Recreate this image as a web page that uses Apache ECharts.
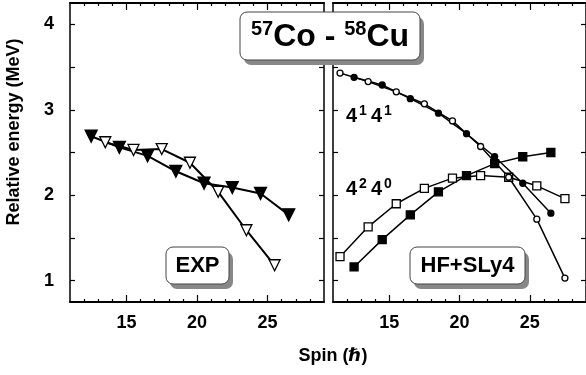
<!DOCTYPE html>
<html>
<head>
<meta charset="utf-8">
<script src="https://cdn.jsdelivr.net/npm/echarts@6/dist/echarts.min.js"></script>
<style>
  html, body { margin: 0; padding: 0; background: #fff; }
  #chart { width: 586px; height: 375px; }
</style>
</head>
<body>
<div id="chart"></div>
<script>
// 57Co (EXP) et 58Cu (HF+SLy4) : energie relative vs spin
const FONT = "'Liberation Sans', Arial, 'DejaVu Sans', sans-serif";

// panneau gauche : experience
const expFilledSpin = [12.5, 14.5, 16.5, 18.5, 20.5, 22.5, 24.5, 26.5];
const expFilledE    = [2.69, 2.56, 2.46, 2.28, 2.14, 2.09, 2.02, 1.77];
const expOpenSpin   = [13.5, 15.5, 17.5, 19.5, 21.5, 23.5, 25.5];
const expOpenE      = [2.62, 2.53, 2.54, 2.38, 2.04, 1.59, 1.18];

// panneau droit : calcul HF+SLy4
const hfOpenCircSpin = [11.5, 13.5, 15.5, 17.5, 19.5, 21.5, 23.5, 25.5, 27.5];
const hfOpenCircE    = [3.43, 3.33, 3.21, 3.07, 2.87, 2.57, 2.21, 1.72, 1.03];
const hfFilledCircSpin = [12.5, 14.5, 16.5, 18.5, 20.5, 22.5, 24.5, 26.5];
const hfFilledCircE    = [3.38, 3.29, 3.13, 2.96, 2.72, 2.45, 2.14, 1.79];
const hfOpenSqSpin = [11.5, 13.5, 15.5, 17.5, 19.5, 21.5, 23.5, 25.5, 27.5];
const hfOpenSqE    = [1.28, 1.63, 1.90, 2.08, 2.20, 2.23, 2.21, 2.11, 1.96];
const hfFilledSqSpin = [12.5, 14.5, 16.5, 18.5, 20.5, 22.5, 24.5, 26.5];
const hfFilledSqE    = [1.16, 1.48, 1.77, 2.04, 2.23, 2.37, 2.45, 2.50];

// axes
const spinRange = [11, 29];
const energyRange = [0.75, 4.25];
const spinLabels = [15, 20, 25];
const spinMinorTicks = [12, 13, 14, 16, 17, 18, 19, 21, 22, 23, 24, 26, 27, 28];
const energyLabels = [1, 2, 3, 4];
const energyTicks = [1, 1.5, 2, 2.5, 3, 3.5, 4];

const pairs = (xs, ys) => xs.map((x, i) => [x, ys[i]]);

const chart = echarts.init(document.getElementById('chart'));

const axisLine = { show: true, lineStyle: { color: '#000', width: 2 } };

function xAxes(gridIndex) {
  const base = {
    type: 'value', gridIndex, min: spinRange[0], max: spinRange[1],
    splitLine: { show: false }
  };
  return [
    Object.assign({}, base, {
      position: 'bottom', axisLine,
      axisTick: { inside: true, length: 7, customValues: spinLabels, lineStyle: { color: '#000', width: 1.2 } },
      axisLabel: { customValues: spinLabels, margin: 12, color: '#000', fontSize: 18, fontWeight: 'bold', fontFamily: FONT }
    }),
    Object.assign({}, base, {
      position: 'bottom', axisLine: { show: false },
      axisTick: { inside: true, length: 3, customValues: spinMinorTicks, lineStyle: { color: '#000', width: 1.2 } },
      axisLabel: { show: false }
    }),
    Object.assign({}, base, {
      position: 'top', axisLine,
      axisTick: { inside: true, length: 7, customValues: spinLabels, lineStyle: { color: '#000', width: 1.2 } },
      axisLabel: { show: false }
    }),
    Object.assign({}, base, {
      position: 'top', axisLine: { show: false },
      axisTick: { inside: true, length: 3, customValues: spinMinorTicks, lineStyle: { color: '#000', width: 1.2 } },
      axisLabel: { show: false }
    })
  ];
}

function yAxes(gridIndex, withLabels) {
  const base = {
    type: 'value', gridIndex, min: energyRange[0], max: energyRange[1],
    splitLine: { show: false }, axisLine: { show: true, lineStyle: { color: '#000', width: 1.5 } },
    axisTick: { inside: true, length: 5, customValues: energyTicks, lineStyle: { color: '#000', width: 1.2 } }
  };
  return [
    Object.assign({}, base, {
      position: 'left',
      axisLabel: withLabels
        ? { customValues: energyLabels, margin: 16, color: '#000', fontSize: 18, fontWeight: 'bold', fontFamily: FONT }
        : { show: false }
    }),
    Object.assign({}, base, { position: 'right', axisLabel: { show: false } })
  ];
}

function lineSeries(name, data, xi, yi, symbol, size, filled, width, rotate) {
  return {
    name, type: 'line', data, xAxisIndex: xi, yAxisIndex: yi,
    symbol, symbolSize: size, symbolRotate: rotate || 0, showSymbol: true,
    lineStyle: { color: '#000', width },
    itemStyle: { color: filled ? '#000' : '#fff', borderColor: '#000', borderWidth: 1.3 },
    z: 3, animation: false
  };
}

// boites avec ombre grise
function box(x, y, w, h, label) {
  return [
    { type: 'rect', z: 100, shape: { x: x + 4, y: y + 5, width: w, height: h, r: 7 }, style: { fill: '#888' } },
    { type: 'rect', z: 101, shape: { x, y, width: w, height: h, r: 7 }, style: { fill: '#fff', stroke: '#444', lineWidth: 1 } },
    label
  ];
}

// etiquettes 4^1 4^1 et 4^2 4^0
const supRich = {
  m: { fontSize: 20, fontWeight: 'bold', fontFamily: FONT, fill: '#000', lineHeight: 24, padding: [0, 0, 0, 0] },
  s: { fontSize: 14, fontWeight: 'bold', fontFamily: FONT, fill: '#000', verticalAlign: 'top', lineHeight: 14, padding: [0, 4, 0, 2] }
};

const option = {
  animation: false,
  grid: [
    { left: 70, top: 3, width: 254, height: 299 },
    { left: 333, top: 3, width: 254, height: 299 }
  ],
  xAxis: xAxes(0).concat(xAxes(1)),
  yAxis: yAxes(0, true).concat(yAxes(1, false)),
  series: [
    lineSeries('EXP filled', pairs(expFilledSpin, expFilledE), 0, 0, 'triangle', 12, true, 2, 180),
    lineSeries('EXP open', pairs(expOpenSpin, expOpenE), 0, 0, 'triangle', 11, false, 2, 180),
    lineSeries('HF open sq', pairs(hfOpenSqSpin, hfOpenSqE), 4, 2, 'rect', 8, false, 1.5),
    lineSeries('HF filled sq', pairs(hfFilledSqSpin, hfFilledSqE), 4, 2, 'rect', 8, true, 1.5),
    lineSeries('HF open circ', pairs(hfOpenCircSpin, hfOpenCircE), 4, 2, 'circle', 6, false, 1.5),
    lineSeries('HF filled circ', pairs(hfFilledCircSpin, hfFilledCircE), 4, 2, 'circle', 6, true, 1.5)
  ],
  graphic: [].concat(
    box(240, 12, 180, 48, {
      type: 'text', z: 102, x: 330, y: 37,
      style: {
        text: '{s|57}{m|Co - }{s|58}{m|Cu}', align: 'center', verticalAlign: 'middle',
        rich: {
          m: { fontSize: 32, fontWeight: 'bold', fontFamily: FONT, fill: '#000', lineHeight: 36 },
          s: { fontSize: 20, fontWeight: 'bold', fontFamily: FONT, fill: '#000', verticalAlign: 'top', lineHeight: 24 }
        }
      }
    }),
    box(166, 247, 63, 37, {
      type: 'text', z: 102, x: 197.5, y: 266,
      style: { text: 'EXP', align: 'center', verticalAlign: 'middle', font: 'bold 22px ' + FONT, fill: '#000' }
    }),
    box(410, 247, 115, 37, {
      type: 'text', z: 102, x: 467.5, y: 266,
      style: { text: 'HF+SLy4', align: 'center', verticalAlign: 'middle', font: 'bold 22px ' + FONT, fill: '#000' }
    }),
    [
      {
        type: 'text', z: 102, x: 346, y: 116,
        style: { text: '{m|4}{s|1}{m|4}{s|1}', verticalAlign: 'middle', rich: supRich }
      },
      {
        type: 'text', z: 102, x: 346, y: 189,
        style: { text: '{m|4}{s|2}{m|4}{s|0}', verticalAlign: 'middle', rich: supRich }
      },
      {
        type: 'text', z: 102, x: 14, y: 132, rotation: Math.PI / 2,
        style: { text: 'Relative energy (MeV)', align: 'center', verticalAlign: 'middle', font: 'bold 18px ' + FONT, fill: '#000' }
      },
      {
        type: 'text', z: 102, x: 333, y: 356,
        style: { text: 'Spin (\u210F)', align: 'center', verticalAlign: 'middle', font: 'bold 18px ' + FONT, fill: '#000' }
      }
    ]
  )
};

chart.setOption(option);
</script>
</body>
</html>
